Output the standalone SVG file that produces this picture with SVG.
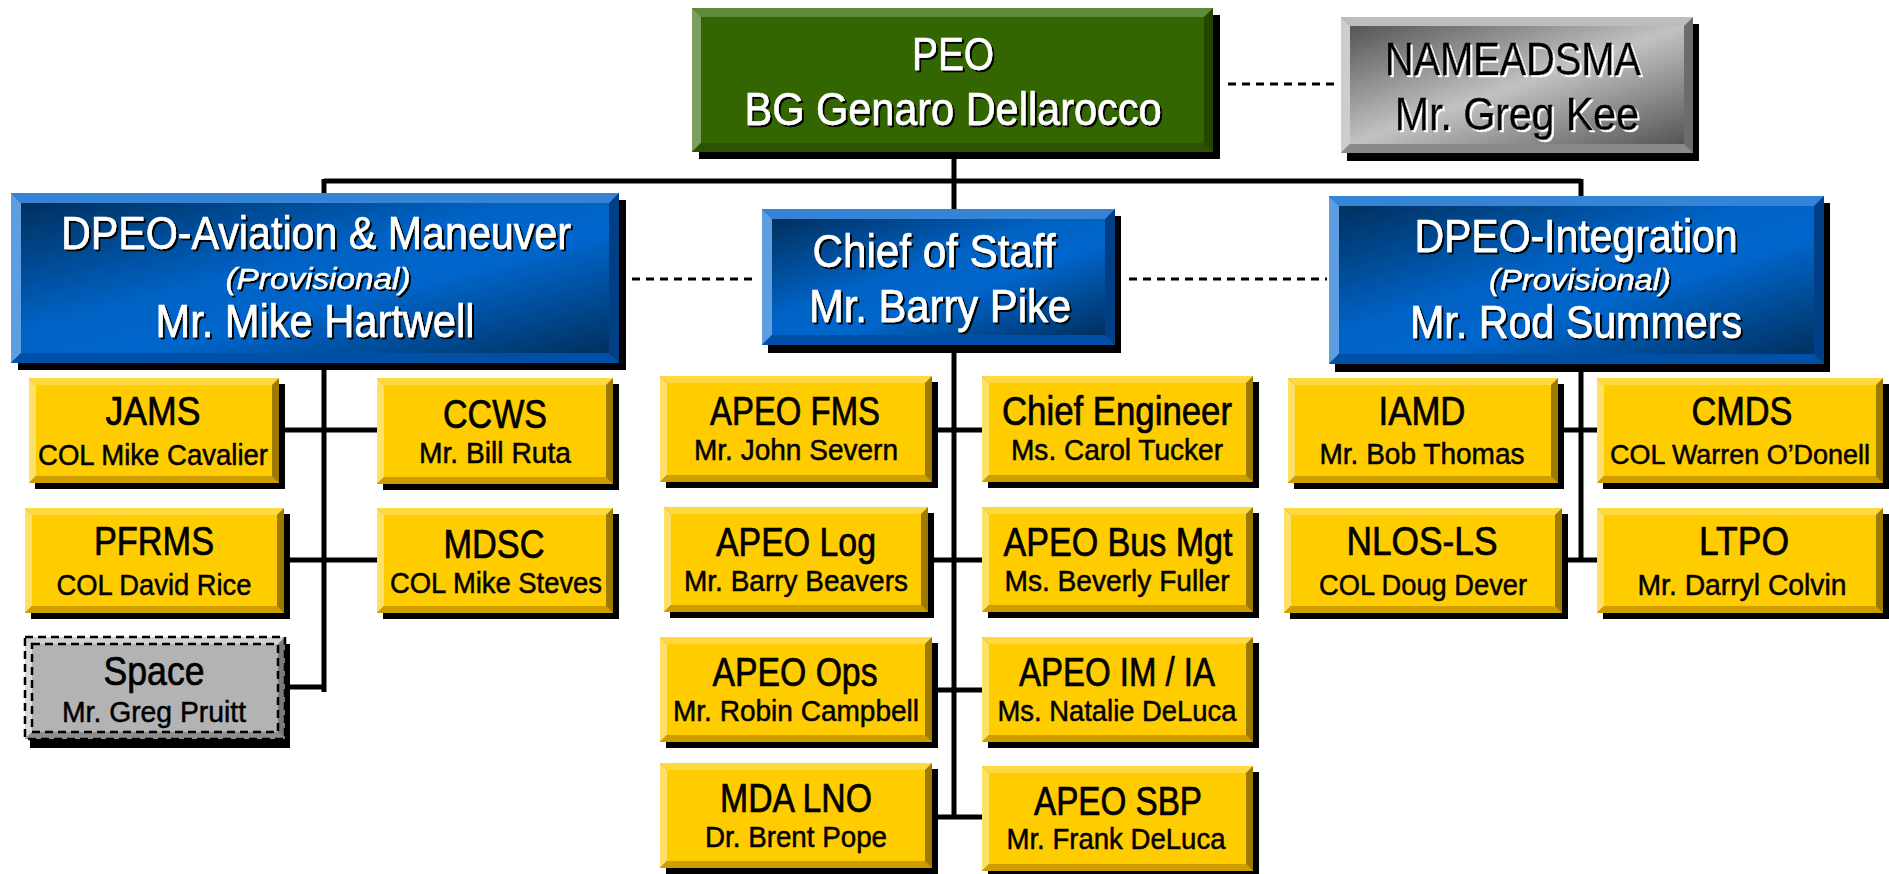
<svg xmlns="http://www.w3.org/2000/svg" width="1889" height="874" viewBox="0 0 1889 874">
<defs>
<linearGradient id="gBlue" x1="0" y1="0" x2="1" y2="1">
<stop offset="0" stop-color="#00305f"/>
<stop offset="0.42" stop-color="#0062c4"/>
<stop offset="0.6" stop-color="#0066cc"/>
<stop offset="1" stop-color="#00305f"/>
</linearGradient>
<linearGradient id="gGray" x1="0" y1="0" x2="1" y2="1">
<stop offset="0" stop-color="#555555"/>
<stop offset="0.5" stop-color="#c2c2c2"/>
<stop offset="1" stop-color="#555555"/>
</linearGradient>
<filter id="shB" x="-5%" y="-20%" width="110%" height="140%">
<feDropShadow dx="2" dy="2" stdDeviation="0" flood-color="#000000" flood-opacity="1"/>
</filter>
<filter id="shW" x="-5%" y="-20%" width="110%" height="140%">
<feDropShadow dx="2" dy="2" stdDeviation="0" flood-color="#ffffff" flood-opacity="1"/>
</filter>
</defs>
<style>
text{font-family:"Liberation Sans Narrow","Liberation Sans",Arial,sans-serif;text-anchor:middle;}
.sh{fill:#000000;}
.big{font-size:46px;stroke-width:0.6px;}
.prov{font-size:30px;font-style:italic;stroke-width:0.4px;}
.t1{font-size:40px;fill:#000000;stroke:#000000;stroke-width:0.7px;}
.t2{font-size:30px;fill:#000000;stroke:#000000;stroke-width:0.5px;}
.w{fill:#ffffff;stroke:#ffffff;filter:url(#shB);}
.k{fill:#000000;stroke:#000000;filter:url(#shW);}
.green .r{fill:#234600;} .green .t{fill:#5e8a3c;} .green .l{fill:#7c9e5f;} .green .b{fill:#2c5400;} .green .f{fill:#336600;}
.blue .r{fill:#003f86;} .blue .t{fill:#3584d6;} .blue .l{fill:#5d9de0;} .blue .b{fill:#0050a8;} .blue .f{fill:url(#gBlue);}
.gray .r{fill:#6c6c6c;} .gray .t{fill:#bdbdbd;} .gray .l{fill:#cdcdcd;} .gray .b{fill:#8a8a8a;} .gray .f{fill:url(#gGray);}
.yel .r{fill:#9e7a00;} .yel .t{fill:#ffd940;} .yel .l{fill:#ffe066;} .yel .b{fill:#cc9e00;} .yel .f{fill:#ffcc00;}
.sp .r{fill:#7a7a7a;} .sp .t{fill:#d2d2d2;} .sp .l{fill:#dadada;} .sp .b{fill:#8e8e8e;} .sp .f{fill:#b3b3b3;}
.dsh{fill:none;stroke:#000000;stroke-width:2.5;stroke-dasharray:8 5;}
.ln{stroke:#000000;stroke-width:5;fill:none;}
.dl{stroke:#000000;stroke-width:3;fill:none;stroke-dasharray:8 6;}
</style>

<g id="connectors">
<line class="ln" x1="324" y1="181" x2="1581" y2="181"/>
<line class="ln" x1="324" y1="179" x2="324" y2="195"/>
<line class="ln" x1="1581" y1="179" x2="1581" y2="198"/>
<line class="ln" x1="954" y1="150" x2="954" y2="819"/>
<line class="ln" x1="324" y1="360" x2="324" y2="692"/>
<line class="ln" x1="285" y1="430" x2="377" y2="430"/>
<line class="ln" x1="289" y1="560" x2="377" y2="560"/>
<line class="ln" x1="289" y1="687" x2="324" y2="687"/>
<line class="ln" x1="938" y1="430" x2="982" y2="430"/>
<line class="ln" x1="934" y1="560" x2="982" y2="560"/>
<line class="ln" x1="938" y1="690" x2="982" y2="690"/>
<line class="ln" x1="938" y1="817" x2="982" y2="817"/>
<line class="ln" x1="1581" y1="360" x2="1581" y2="562"/>
<line class="ln" x1="1564" y1="430" x2="1597" y2="430"/>
<line class="ln" x1="1562" y1="560" x2="1597" y2="560"/>
<line class="dl" x1="1228" y1="84" x2="1334" y2="84"/>
<line class="dl" x1="632" y1="279" x2="756" y2="279"/>
<line class="dl" x1="1129" y1="279" x2="1327" y2="279"/>
</g>

<g id="peo" class="green">
<rect class="sh" x="699" y="15" width="521" height="144"/>
<rect class="r" x="692" y="8" width="521" height="144"/>
<polygon class="t" points="692,8 1213,8 1204,17 701,17"/>
<polygon class="l" points="692,8 701,17 701,143 692,152"/>
<polygon class="b" points="692,152 701,143 1204,143 1213,152"/>
<rect class="f" x="701" y="17" width="503" height="126"/>
<text class="big w" x="953" y="70" textLength="82" lengthAdjust="spacingAndGlyphs">PEO</text>
<text class="big w" x="953" y="125" textLength="417" lengthAdjust="spacingAndGlyphs">BG Genaro Dellarocco</text>
</g>

<g id="nameadsma" class="gray">
<rect class="sh" x="1347" y="24" width="352" height="137"/>
<rect class="r" x="1341" y="17" width="352" height="136"/>
<polygon class="t" points="1341,17 1693,17 1684,26 1350,26"/>
<polygon class="l" points="1341,17 1350,26 1350,144 1341,153"/>
<polygon class="b" points="1341,153 1350,144 1684,144 1693,153"/>
<rect class="f" x="1350" y="26" width="334" height="118"/>
<text class="big k" x="1513" y="75" textLength="256" lengthAdjust="spacingAndGlyphs">NAMEADSMA</text>
<text class="big k" x="1517" y="130" textLength="244" lengthAdjust="spacingAndGlyphs">Mr. Greg Kee</text>
</g>

<g id="dpeo-am" class="blue">
<rect class="sh" x="18" y="200" width="608" height="170"/>
<rect class="r" x="11" y="193" width="608" height="170"/>
<polygon class="t" points="11,193 619,193 609,203 21,203"/>
<polygon class="l" points="11,193 21,203 21,353 11,363"/>
<polygon class="b" points="11,363 21,353 609,353 619,363"/>
<rect class="f" x="21" y="203" width="588" height="150"/>
<text class="big w" x="316" y="249" textLength="510" lengthAdjust="spacingAndGlyphs">DPEO-Aviation &amp; Maneuver</text>
<text class="prov w" x="318" y="289" textLength="185" lengthAdjust="spacingAndGlyphs">(Provisional)</text>
<text class="big w" x="315" y="337" textLength="319" lengthAdjust="spacingAndGlyphs">Mr. Mike Hartwell</text>
</g>

<g id="chief-of-staff" class="blue">
<rect class="sh" x="768" y="216" width="353" height="137"/>
<rect class="r" x="762" y="209" width="353" height="136"/>
<polygon class="t" points="762,209 1115,209 1105,219 772,219"/>
<polygon class="l" points="762,209 772,219 772,335 762,345"/>
<polygon class="b" points="762,345 772,335 1105,335 1115,345"/>
<rect class="f" x="772" y="219" width="333" height="116"/>
<text class="big w" x="934" y="267" textLength="243" lengthAdjust="spacingAndGlyphs">Chief of Staff</text>
<text class="big w" x="940" y="322" textLength="262" lengthAdjust="spacingAndGlyphs">Mr. Barry Pike</text>
</g>

<g id="dpeo-int" class="blue">
<rect class="sh" x="1335" y="203" width="495" height="169"/>
<rect class="r" x="1329" y="196" width="495" height="168"/>
<polygon class="t" points="1329,196 1824,196 1814,206 1339,206"/>
<polygon class="l" points="1329,196 1339,206 1339,354 1329,364"/>
<polygon class="b" points="1329,364 1339,354 1814,354 1824,364"/>
<rect class="f" x="1339" y="206" width="475" height="148"/>
<text class="big w" x="1576" y="252" textLength="323" lengthAdjust="spacingAndGlyphs">DPEO-Integration</text>
<text class="prov w" x="1580" y="290" textLength="182" lengthAdjust="spacingAndGlyphs">(Provisional)</text>
<text class="big w" x="1576" y="338" textLength="332" lengthAdjust="spacingAndGlyphs">Mr. Rod Summers</text>
</g>

<g id="jams" class="yel">
<rect class="sh" x="35" y="384" width="250" height="105"/>
<rect class="r" x="29" y="378" width="250" height="105"/>
<polygon class="t" points="29,378 279,378 272,385 36,385"/>
<polygon class="l" points="29,378 36,385 36,476 29,483"/>
<polygon class="b" points="29,483 36,476 272,476 279,483"/>
<rect class="f" x="36" y="385" width="236" height="91"/>
<text class="t1" x="153" y="425" textLength="95" lengthAdjust="spacingAndGlyphs">JAMS</text>
<text class="t2" x="153" y="465" textLength="230" lengthAdjust="spacingAndGlyphs">COL Mike Cavalier</text>
</g>

<g id="ccws" class="yel">
<rect class="sh" x="383" y="384" width="236" height="106"/>
<rect class="r" x="377" y="378" width="236" height="106"/>
<polygon class="t" points="377,378 613,378 606,385 384,385"/>
<polygon class="l" points="377,378 384,385 384,477 377,484"/>
<polygon class="b" points="377,484 384,477 606,477 613,484"/>
<rect class="f" x="384" y="385" width="222" height="92"/>
<text class="t1" x="495" y="428" textLength="104" lengthAdjust="spacingAndGlyphs">CCWS</text>
<text class="t2" x="495" y="463" textLength="152" lengthAdjust="spacingAndGlyphs">Mr. Bill Ruta</text>
</g>

<g id="pfrms" class="yel">
<rect class="sh" x="31" y="514" width="259" height="105"/>
<rect class="r" x="25" y="508" width="259" height="105"/>
<polygon class="t" points="25,508 284,508 277,515 32,515"/>
<polygon class="l" points="25,508 32,515 32,606 25,613"/>
<polygon class="b" points="25,613 32,606 277,606 284,613"/>
<rect class="f" x="32" y="515" width="245" height="91"/>
<text class="t1" x="154" y="555" textLength="120" lengthAdjust="spacingAndGlyphs">PFRMS</text>
<text class="t2" x="154" y="595" textLength="195" lengthAdjust="spacingAndGlyphs">COL David Rice</text>
</g>

<g id="mdsc" class="yel">
<rect class="sh" x="383" y="514" width="236" height="105"/>
<rect class="r" x="377" y="508" width="236" height="105"/>
<polygon class="t" points="377,508 613,508 606,515 384,515"/>
<polygon class="l" points="377,508 384,515 384,606 377,613"/>
<polygon class="b" points="377,613 384,606 606,606 613,613"/>
<rect class="f" x="384" y="515" width="222" height="91"/>
<text class="t1" x="494" y="558" textLength="101" lengthAdjust="spacingAndGlyphs">MDSC</text>
<text class="t2" x="496" y="593" textLength="212" lengthAdjust="spacingAndGlyphs">COL Mike Steves</text>
</g>

<g id="space" class="sp">
<rect class="sh" x="30" y="644" width="260" height="104"/>
<rect class="r" x="25" y="637" width="260" height="102"/>
<polygon class="t" points="25,637 285,637 278,644 32,644"/>
<polygon class="l" points="25,637 32,644 32,732 25,739"/>
<polygon class="b" points="25,739 32,732 278,732 285,739"/>
<rect class="f" x="32" y="644" width="246" height="88"/>
<rect class="dsh" x="25" y="637" width="260" height="102"/>
<rect class="dsh" x="32" y="644" width="246" height="88"/>
<text class="t1" x="154" y="685" textLength="101" lengthAdjust="spacingAndGlyphs">Space</text>
<text class="t2" x="154" y="722" textLength="184" lengthAdjust="spacingAndGlyphs">Mr. Greg Pruitt</text>
</g>

<g id="apeo-fms" class="yel">
<rect class="sh" x="666" y="382" width="272" height="106"/>
<rect class="r" x="660" y="376" width="272" height="106"/>
<polygon class="t" points="660,376 932,376 925,383 667,383"/>
<polygon class="l" points="660,376 667,383 667,475 660,482"/>
<polygon class="b" points="660,482 667,475 925,475 932,482"/>
<rect class="f" x="667" y="383" width="258" height="92"/>
<text class="t1" x="795" y="425" textLength="170" lengthAdjust="spacingAndGlyphs">APEO FMS</text>
<text class="t2" x="796" y="460" textLength="204" lengthAdjust="spacingAndGlyphs">Mr. John Severn</text>
</g>

<g id="chief-engineer" class="yel">
<rect class="sh" x="988" y="382" width="271" height="106"/>
<rect class="r" x="982" y="376" width="271" height="106"/>
<polygon class="t" points="982,376 1253,376 1246,383 989,383"/>
<polygon class="l" points="982,376 989,383 989,475 982,482"/>
<polygon class="b" points="982,482 989,475 1246,475 1253,482"/>
<rect class="f" x="989" y="383" width="257" height="92"/>
<text class="t1" x="1117" y="425" textLength="230" lengthAdjust="spacingAndGlyphs">Chief Engineer</text>
<text class="t2" x="1117" y="460" textLength="212" lengthAdjust="spacingAndGlyphs">Ms. Carol Tucker</text>
</g>

<g id="apeo-log" class="yel">
<rect class="sh" x="670" y="513" width="264" height="105"/>
<rect class="r" x="664" y="507" width="264" height="105"/>
<polygon class="t" points="664,507 928,507 921,514 671,514"/>
<polygon class="l" points="664,507 671,514 671,605 664,612"/>
<polygon class="b" points="664,612 671,605 921,605 928,612"/>
<rect class="f" x="671" y="514" width="250" height="91"/>
<text class="t1" x="796" y="556" textLength="160" lengthAdjust="spacingAndGlyphs">APEO Log</text>
<text class="t2" x="796" y="591" textLength="224" lengthAdjust="spacingAndGlyphs">Mr. Barry Beavers</text>
</g>

<g id="apeo-bus-mgt" class="yel">
<rect class="sh" x="988" y="513" width="271" height="105"/>
<rect class="r" x="982" y="507" width="271" height="105"/>
<polygon class="t" points="982,507 1253,507 1246,514 989,514"/>
<polygon class="l" points="982,507 989,514 989,605 982,612"/>
<polygon class="b" points="982,612 989,605 1246,605 1253,612"/>
<rect class="f" x="989" y="514" width="257" height="91"/>
<text class="t1" x="1118" y="556" textLength="229" lengthAdjust="spacingAndGlyphs">APEO Bus Mgt</text>
<text class="t2" x="1117" y="591" textLength="225" lengthAdjust="spacingAndGlyphs">Ms. Beverly Fuller</text>
</g>

<g id="apeo-ops" class="yel">
<rect class="sh" x="666" y="643" width="272" height="105"/>
<rect class="r" x="660" y="637" width="272" height="105"/>
<polygon class="t" points="660,637 932,637 925,644 667,644"/>
<polygon class="l" points="660,637 667,644 667,735 660,742"/>
<polygon class="b" points="660,742 667,735 925,735 932,742"/>
<rect class="f" x="667" y="644" width="258" height="91"/>
<text class="t1" x="795" y="686" textLength="165" lengthAdjust="spacingAndGlyphs">APEO Ops</text>
<text class="t2" x="796" y="721" textLength="246" lengthAdjust="spacingAndGlyphs">Mr. Robin Campbell</text>
</g>

<g id="apeo-im-ia" class="yel">
<rect class="sh" x="988" y="643" width="271" height="105"/>
<rect class="r" x="982" y="637" width="271" height="105"/>
<polygon class="t" points="982,637 1253,637 1246,644 989,644"/>
<polygon class="l" points="982,637 989,644 989,735 982,742"/>
<polygon class="b" points="982,742 989,735 1246,735 1253,742"/>
<rect class="f" x="989" y="644" width="257" height="91"/>
<text class="t1" x="1117" y="686" textLength="196" lengthAdjust="spacingAndGlyphs">APEO IM / IA</text>
<text class="t2" x="1117" y="721" textLength="239" lengthAdjust="spacingAndGlyphs">Ms. Natalie DeLuca</text>
</g>

<g id="mda-lno" class="yel">
<rect class="sh" x="666" y="769" width="272" height="105"/>
<rect class="r" x="660" y="763" width="272" height="105"/>
<polygon class="t" points="660,763 932,763 925,770 667,770"/>
<polygon class="l" points="660,763 667,770 667,861 660,868"/>
<polygon class="b" points="660,868 667,861 925,861 932,868"/>
<rect class="f" x="667" y="770" width="258" height="91"/>
<text class="t1" x="796" y="812" textLength="152" lengthAdjust="spacingAndGlyphs">MDA LNO</text>
<text class="t2" x="796" y="847" textLength="182" lengthAdjust="spacingAndGlyphs">Dr. Brent Pope</text>
</g>

<g id="apeo-sbp" class="yel">
<rect class="sh" x="988" y="772" width="271" height="105"/>
<rect class="r" x="982" y="766" width="271" height="105"/>
<polygon class="t" points="982,766 1253,766 1246,773 989,773"/>
<polygon class="l" points="982,766 989,773 989,864 982,871"/>
<polygon class="b" points="982,871 989,864 1246,864 1253,871"/>
<rect class="f" x="989" y="773" width="257" height="91"/>
<text class="t1" x="1118" y="815" textLength="168" lengthAdjust="spacingAndGlyphs">APEO SBP</text>
<text class="t2" x="1116" y="849" textLength="219" lengthAdjust="spacingAndGlyphs">Mr. Frank DeLuca</text>
</g>

<g id="iamd" class="yel">
<rect class="sh" x="1294" y="384" width="270" height="105"/>
<rect class="r" x="1288" y="378" width="270" height="105"/>
<polygon class="t" points="1288,378 1558,378 1551,385 1295,385"/>
<polygon class="l" points="1288,378 1295,385 1295,476 1288,483"/>
<polygon class="b" points="1288,483 1295,476 1551,476 1558,483"/>
<rect class="f" x="1295" y="385" width="256" height="91"/>
<text class="t1" x="1422" y="425" textLength="87" lengthAdjust="spacingAndGlyphs">IAMD</text>
<text class="t2" x="1422" y="464" textLength="205" lengthAdjust="spacingAndGlyphs">Mr. Bob Thomas</text>
</g>

<g id="cmds" class="yel">
<rect class="sh" x="1603" y="384" width="286" height="105"/>
<rect class="r" x="1597" y="378" width="286" height="105"/>
<polygon class="t" points="1597,378 1883,378 1876,385 1604,385"/>
<polygon class="l" points="1597,378 1604,385 1604,476 1597,483"/>
<polygon class="b" points="1597,483 1604,476 1876,476 1883,483"/>
<rect class="f" x="1604" y="385" width="272" height="91"/>
<text class="t1" x="1742" y="425" textLength="101" lengthAdjust="spacingAndGlyphs">CMDS</text>
<text class="t2" x="1740" y="464" textLength="260" lengthAdjust="spacingAndGlyphs" style="font-size:28px">COL Warren O’Donell</text>
</g>

<g id="nlos-ls" class="yel">
<rect class="sh" x="1290" y="514" width="278" height="105"/>
<rect class="r" x="1284" y="508" width="278" height="105"/>
<polygon class="t" points="1284,508 1562,508 1555,515 1291,515"/>
<polygon class="l" points="1284,508 1291,515 1291,606 1284,613"/>
<polygon class="b" points="1284,613 1291,606 1555,606 1562,613"/>
<rect class="f" x="1291" y="515" width="264" height="91"/>
<text class="t1" x="1422" y="555" textLength="151" lengthAdjust="spacingAndGlyphs">NLOS-LS</text>
<text class="t2" x="1423" y="595" textLength="208" lengthAdjust="spacingAndGlyphs">COL Doug Dever</text>
</g>

<g id="ltpo" class="yel">
<rect class="sh" x="1603" y="514" width="286" height="105"/>
<rect class="r" x="1597" y="508" width="286" height="105"/>
<polygon class="t" points="1597,508 1883,508 1876,515 1604,515"/>
<polygon class="l" points="1597,508 1604,515 1604,606 1597,613"/>
<polygon class="b" points="1597,613 1604,606 1876,606 1883,613"/>
<rect class="f" x="1604" y="515" width="272" height="91"/>
<text class="t1" x="1744" y="555" textLength="90" lengthAdjust="spacingAndGlyphs">LTPO</text>
<text class="t2" x="1742" y="595" textLength="209" lengthAdjust="spacingAndGlyphs">Mr. Darryl Colvin</text>
</g>
</svg>
